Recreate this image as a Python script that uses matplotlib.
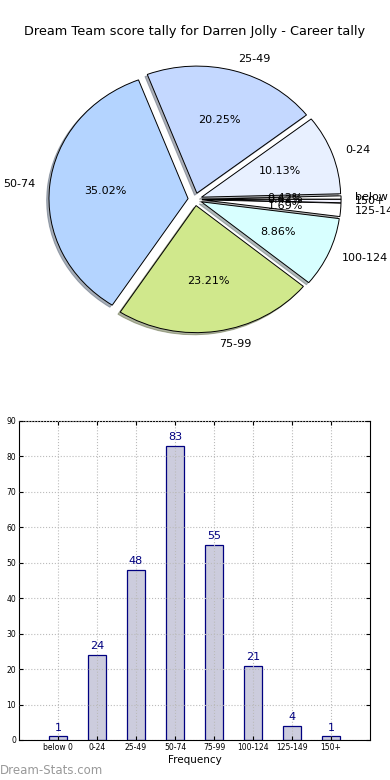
import matplotlib
matplotlib.use("Agg")
import matplotlib.pyplot as plt

# score bands and how many games fell into each
bands = ["below 0", "0-24", "25-49", "50-74", "75-99", "100-124", "125-149", "150+"]
counts = [1, 24, 48, 83, 55, 21, 4, 1]
pie_colors = ["#ffffff", "#e8f0ff", "#c4d8ff", "#b4d4ff",
              "#d0e88c", "#d8ffff", "#ffffff", "#f4f4ff"]

fig = plt.figure(figsize=(3.9, 7.8), dpi=100)
fig.suptitle("Dream Team score tally for Darren Jolly - Career tally",
             fontsize=9.3, y=0.968)

# ---- pie (old style, not forced round) ----
ax1 = fig.add_axes([0.072, 0.549, 0.856, 0.391])
wedges, texts, autotexts = ax1.pie(
    counts, labels=bands, colors=pie_colors, autopct="%1.2f%%",
    explode=[0.05] * len(counts),
    shadow={"ox": -0.012, "oy": -0.012, "shade": 0.55}, startangle=0,
    wedgeprops=dict(edgecolor="black", linewidth=0.7),
    textprops=dict(fontsize=8))
ax1.set_aspect("auto")
ax1.set_xlim(-1.2, 1.2)
ax1.set_ylim(-1.2, 1.2)
ax1.axis("off")

# ---- bar chart ----
ax2 = fig.add_axes([0.0487, 0.0513, 0.9, 0.409])
xs = range(len(counts))
ax2.bar(xs, counts, width=0.45, color="#ccccdd", edgecolor="navy", linewidth=0.9)
for x, c in zip(xs, counts):
    ax2.text(x, c + 1, str(c), ha="center", va="bottom", color="navy", fontsize=8)

ax2.set_xlim(-1, 8)
ax2.set_ylim(0, 90)
ax2.set_yticks(range(0, 91, 10))
ax2.set_xticks(list(xs))
ax2.set_xticklabels(bands)
ax2.tick_params(labelsize=5.5, direction="in", top=True, right=True, length=3, pad=2)
ax2.grid(True, linestyle=":", color="#bbbbbb", linewidth=0.8)
ax2.set_axisbelow(False)
ax2.set_xlabel("Frequency", fontsize=7.5, labelpad=2)

fig.text(0.0, 0.004, "Dream-Stats.com", fontsize=8.5, color="#999999",
         ha="left", va="bottom")

fig.savefig("out.png", dpi=100)
